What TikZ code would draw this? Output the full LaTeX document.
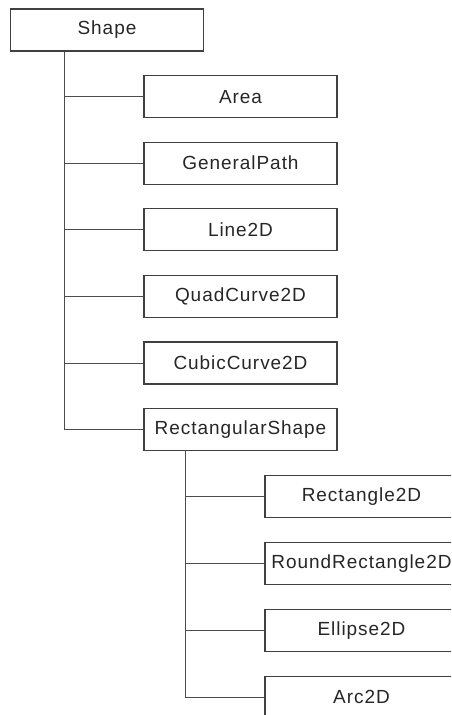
\documentclass[tikz,border=0pt]{standalone}
\usepackage{fontspec}
\setmainfont[LetterSpace=5]{Liberation Sans}
\begin{document}
\begin{tikzpicture}[x=1pt,y=-1pt,font=\fontsize{19}{23}\selectfont,
    cls/.style={draw=black!75,line width=1.2pt,minimum width=193pt,minimum height=42pt,inner sep=0pt,text=black!85},
    link/.style={draw=black!70,line width=1pt}]
    \useasboundingbox (0,0) rectangle (451,715);
    \clip (0,0) rectangle (451,715);
    \node[cls] (shape) at (107,30) {Shape};
    \foreach \count/\desc in {1/Area, 2/GeneralPath, 3/Line2D, 4/QuadCurve2D, 5/CubicCurve2D, 6/RectangularShape} {
        \node[cls] (c\count) at (240.5,{30+66.6*\count}) {\desc};
        \draw[link] ([xshift=55pt]shape.south west) |- (c\count.west);
    }
    \foreach \count/\desc in {1/Rectangle2D, 2/RoundRectangle2D, 3/Ellipse2D, 4/Arc2D} {
        \node[cls] (d\count) at (361.5,{430+66.8*\count}) {\desc};
        \draw[link] ([xshift=42pt]c6.south west) |- (d\count.west);
    }
\end{tikzpicture}
\end{document}
